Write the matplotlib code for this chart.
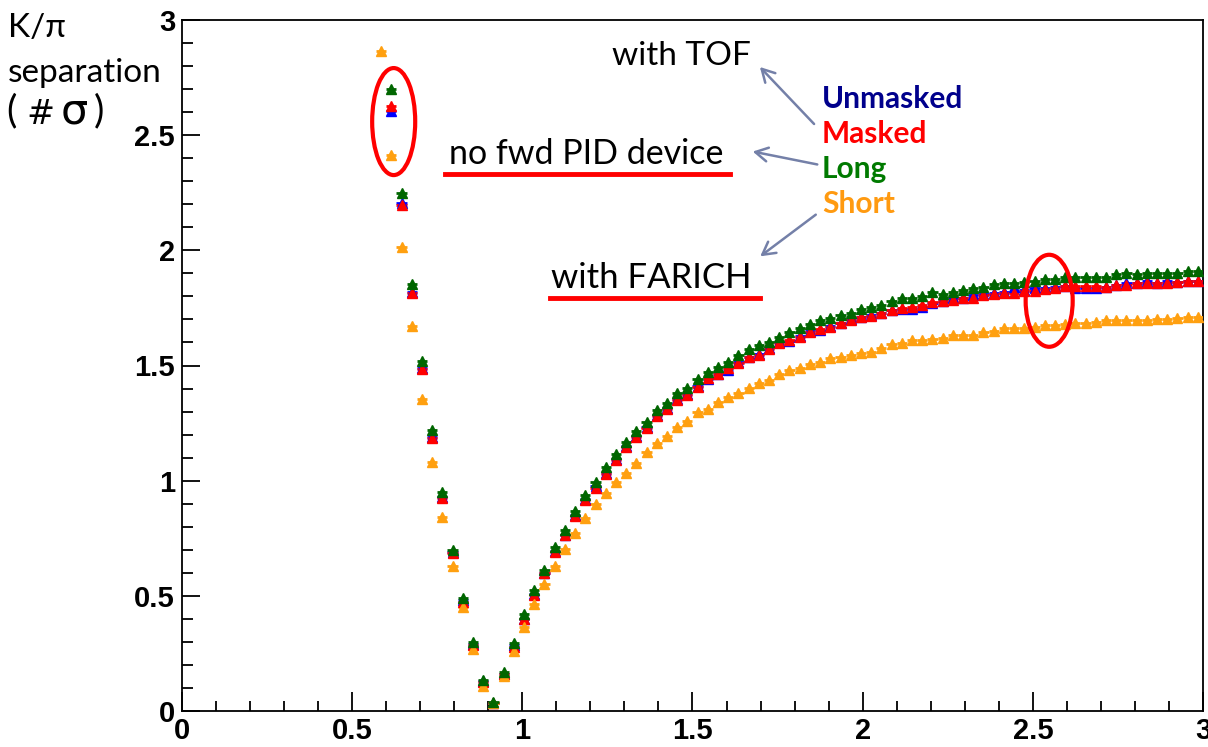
import numpy as np
import matplotlib
matplotlib.use('Agg')
import matplotlib.pyplot as plt
from matplotlib.patches import Ellipse, FancyArrowPatch
from matplotlib.lines import Line2D
from matplotlib.ticker import MultipleLocator

# momentum bins (GeV/c), 0.03 wide
p_lo = 0.57
p_width = 0.03
p = np.round(p_lo + p_width * (np.arange(81) + 0.5), 3)

unmasked = [np.nan, 2.605, 2.207, 1.820, 1.490, 1.191, 0.928, 0.690, 0.480, 0.290,
            0.130, 0.035, 0.160, 0.285, 0.400, 0.510, 0.600, 0.695, 0.765, 0.850,
            0.920, 0.975, 1.035, 1.095, 1.150, 1.195, 1.235, 1.285, 1.315, 1.355,
            1.375, 1.410, 1.440, 1.465, 1.480, 1.515, 1.535, 1.550, 1.575, 1.600,
            1.605, 1.628, 1.650, 1.655, 1.672, 1.683, 1.700, 1.712, 1.718, 1.730,
            1.743, 1.747, 1.745, 1.755, 1.770, 1.782, 1.795, 1.795, 1.805, 1.810,
            1.815, 1.818, 1.840, 1.826, 1.835, 1.835, 1.840, 1.847, 1.838, 1.838,
            1.838, 1.840, 1.850, 1.858, 1.858, 1.866, 1.857, 1.868, 1.864, 1.868,
            1.868]

masked = [np.nan, 2.628, 2.197, 1.815, 1.485, 1.184, 0.925, 0.687, 0.475, 0.285,
          0.125, 0.035, 0.160, 0.280, 0.400, 0.505, 0.598, 0.690, 0.765, 0.845,
          0.915, 0.970, 1.030, 1.090, 1.145, 1.190, 1.230, 1.280, 1.310, 1.350,
          1.370, 1.408, 1.445, 1.463, 1.488, 1.510, 1.539, 1.546, 1.572, 1.597,
          1.611, 1.625, 1.647, 1.659, 1.669, 1.683, 1.698, 1.709, 1.715, 1.727,
          1.741, 1.749, 1.753, 1.763, 1.777, 1.782, 1.785, 1.792, 1.792, 1.806,
          1.811, 1.814, 1.816, 1.824, 1.824, 1.832, 1.835, 1.845, 1.845, 1.845,
          1.845, 1.842, 1.849, 1.849, 1.857, 1.857, 1.857, 1.860, 1.864, 1.868,
          1.868]

long_ = [np.nan, 2.700, 2.248, 1.855, 1.520, 1.220, 0.950, 0.699, 0.490, 0.300,
         0.135, 0.040, 0.170, 0.295, 0.420, 0.525, 0.610, 0.710, 0.786, 0.868,
         0.938, 0.993, 1.058, 1.116, 1.169, 1.217, 1.256, 1.307, 1.339, 1.379,
         1.401, 1.440, 1.473, 1.492, 1.517, 1.546, 1.572, 1.589, 1.604, 1.625,
         1.647, 1.664, 1.679, 1.698, 1.705, 1.719, 1.729, 1.746, 1.756, 1.763,
         1.780, 1.792, 1.795, 1.802, 1.821, 1.811, 1.821, 1.828, 1.835, 1.842,
         1.854, 1.857, 1.860, 1.864, 1.867, 1.874, 1.874, 1.883, 1.886, 1.886,
         1.886, 1.886, 1.898, 1.903, 1.896, 1.903, 1.903, 1.903, 1.900, 1.912,
         1.912]

short = [2.866, 2.414, 2.013, 1.670, 1.355, 1.083, 0.844, 0.631, 0.450, 0.270,
         0.110, 0.035, 0.150, 0.260, 0.365, 0.465, 0.550, 0.630, 0.702, 0.771,
         0.837, 0.899, 0.948, 0.996, 1.035, 1.076, 1.123, 1.165, 1.195, 1.232,
         1.261, 1.296, 1.310, 1.340, 1.362, 1.379, 1.401, 1.425, 1.437, 1.463,
         1.481, 1.488, 1.507, 1.514, 1.531, 1.539, 1.546, 1.553, 1.560, 1.575,
         1.592, 1.597, 1.611, 1.611, 1.614, 1.618, 1.633, 1.633, 1.633, 1.647,
         1.650, 1.662, 1.664, 1.664, 1.669, 1.676, 1.676, 1.680, 1.686, 1.686,
         1.690, 1.698, 1.698, 1.698, 1.698, 1.698, 1.701, 1.701, 1.705, 1.712,
         1.712]

labels = ['Unmasked', 'Masked', 'Long', 'Short']
marker_colors = ['#0000ff', '#ff0000', '#006600', '#ffa010']
label_colors = ['#00008c', '#ff0000', '#007a00', '#ff9a10']

W, H = 1208, 747
fig = plt.figure(figsize=(W / 100, H / 100), dpi=100)
ax = fig.add_axes([182 / W, 1 - 711 / H, (1203 - 182) / W, (711 - 20) / H])


def px(x, y):
    # pixel position -> figure fraction
    return (x / W, 1 - y / H)


# draw order: blue, red, orange, green on top
order = [0, 1, 3, 2]
series = [unmasked, masked, long_, short]
for i in order:
    ax.errorbar(p, series[i], xerr=p_width / 2, yerr=0.01, fmt='^', ms=6.5,
                color=marker_colors[i], mec=marker_colors[i], elinewidth=2,
                capsize=0, zorder=3)

ax.set_xlim(0, 3)
ax.set_ylim(0, 3)
ax.xaxis.set_major_locator(MultipleLocator(0.5))
ax.xaxis.set_minor_locator(MultipleLocator(0.1))
ax.yaxis.set_major_locator(MultipleLocator(0.5))
ax.yaxis.set_minor_locator(MultipleLocator(0.1))
ax.xaxis.set_major_formatter(plt.FuncFormatter(lambda v, _: f'{v:g}'))
ax.yaxis.set_major_formatter(plt.FuncFormatter(lambda v, _: f'{v:g}'))
ax.tick_params(axis='x', which='major', direction='in', length=14, width=1.3, pad=4)
ax.tick_params(axis='x', which='minor', direction='in', length=7, width=1.3)
ax.tick_params(axis='y', which='major', direction='in', length=13, width=1.3, pad=5)
ax.tick_params(axis='y', which='minor', direction='in', length=8, width=1.3)
for lab in ax.get_xticklabels() + ax.get_yticklabels():
    lab.set_fontfamily('Liberation Sans')
    lab.set_fontweight('bold')
    lab.set_fontsize(21)
for s in ax.spines.values():
    s.set_linewidth(1.3)

# red ellipses
ax.add_patch(Ellipse((0.622, 2.559), 43 / 340, 107 / 230.3, fill=False,
                     ec='red', lw=3, zorder=5))
ax.add_patch(Ellipse((2.548, 1.781), 47 / 340, 92 / 230.3, fill=False,
                     ec='red', lw=3, zorder=5))

# y title
fig.text(*px(8, 37), 'K/π', fontsize=24, family='Lato', va='baseline')
fig.text(*px(8, 82), 'separation', fontsize=24, family='Lato', va='baseline')
fig.text(*px(6, 122), '(', fontsize=28, family='Lato', va='baseline')
fig.text(*px(26, 124), '#', fontsize=24, family='DejaVu Sans', va='baseline')
fig.text(*px(61, 124), 'σ', fontsize=31, family='DejaVu Sans', va='baseline')
fig.text(*px(94, 122), ')', fontsize=28, family='Lato', va='baseline')

# annotations
fig.text(*px(612, 65), 'with TOF', fontsize=24, family='Lato', va='baseline')
fig.text(*px(449, 164), 'no fwd PID device', fontsize=24.5, family='Lato', va='baseline')
fig.text(*px(551, 288), 'with FARICH', fontsize=25, family='Lato', va='baseline')
for x0, x1, y in [(445, 730, 174), (550, 760, 298)]:
    (a, b), (c, d) = px(x0, y), px(x1, y)
    fig.add_artist(Line2D([a, c], [b, d], color='red', lw=3.5))

for i, lab in enumerate(labels):
    fig.text(*px(822, 99 + 35 * i), lab, fontsize=21.5, family='Lato',
             weight='bold', color=label_colors[i], va='center')

for start, end in [((816, 126), (758, 65)), ((820, 165), (750, 151)),
                   ((818, 213), (758, 258))]:
    fig.add_artist(FancyArrowPatch(px(*start), px(*end), transform=fig.transFigure,
                                   arrowstyle='->,head_length=9,head_width=5',
                                   color='#7480a8', lw=1.8))

fig.savefig('out.png', dpi=100)
